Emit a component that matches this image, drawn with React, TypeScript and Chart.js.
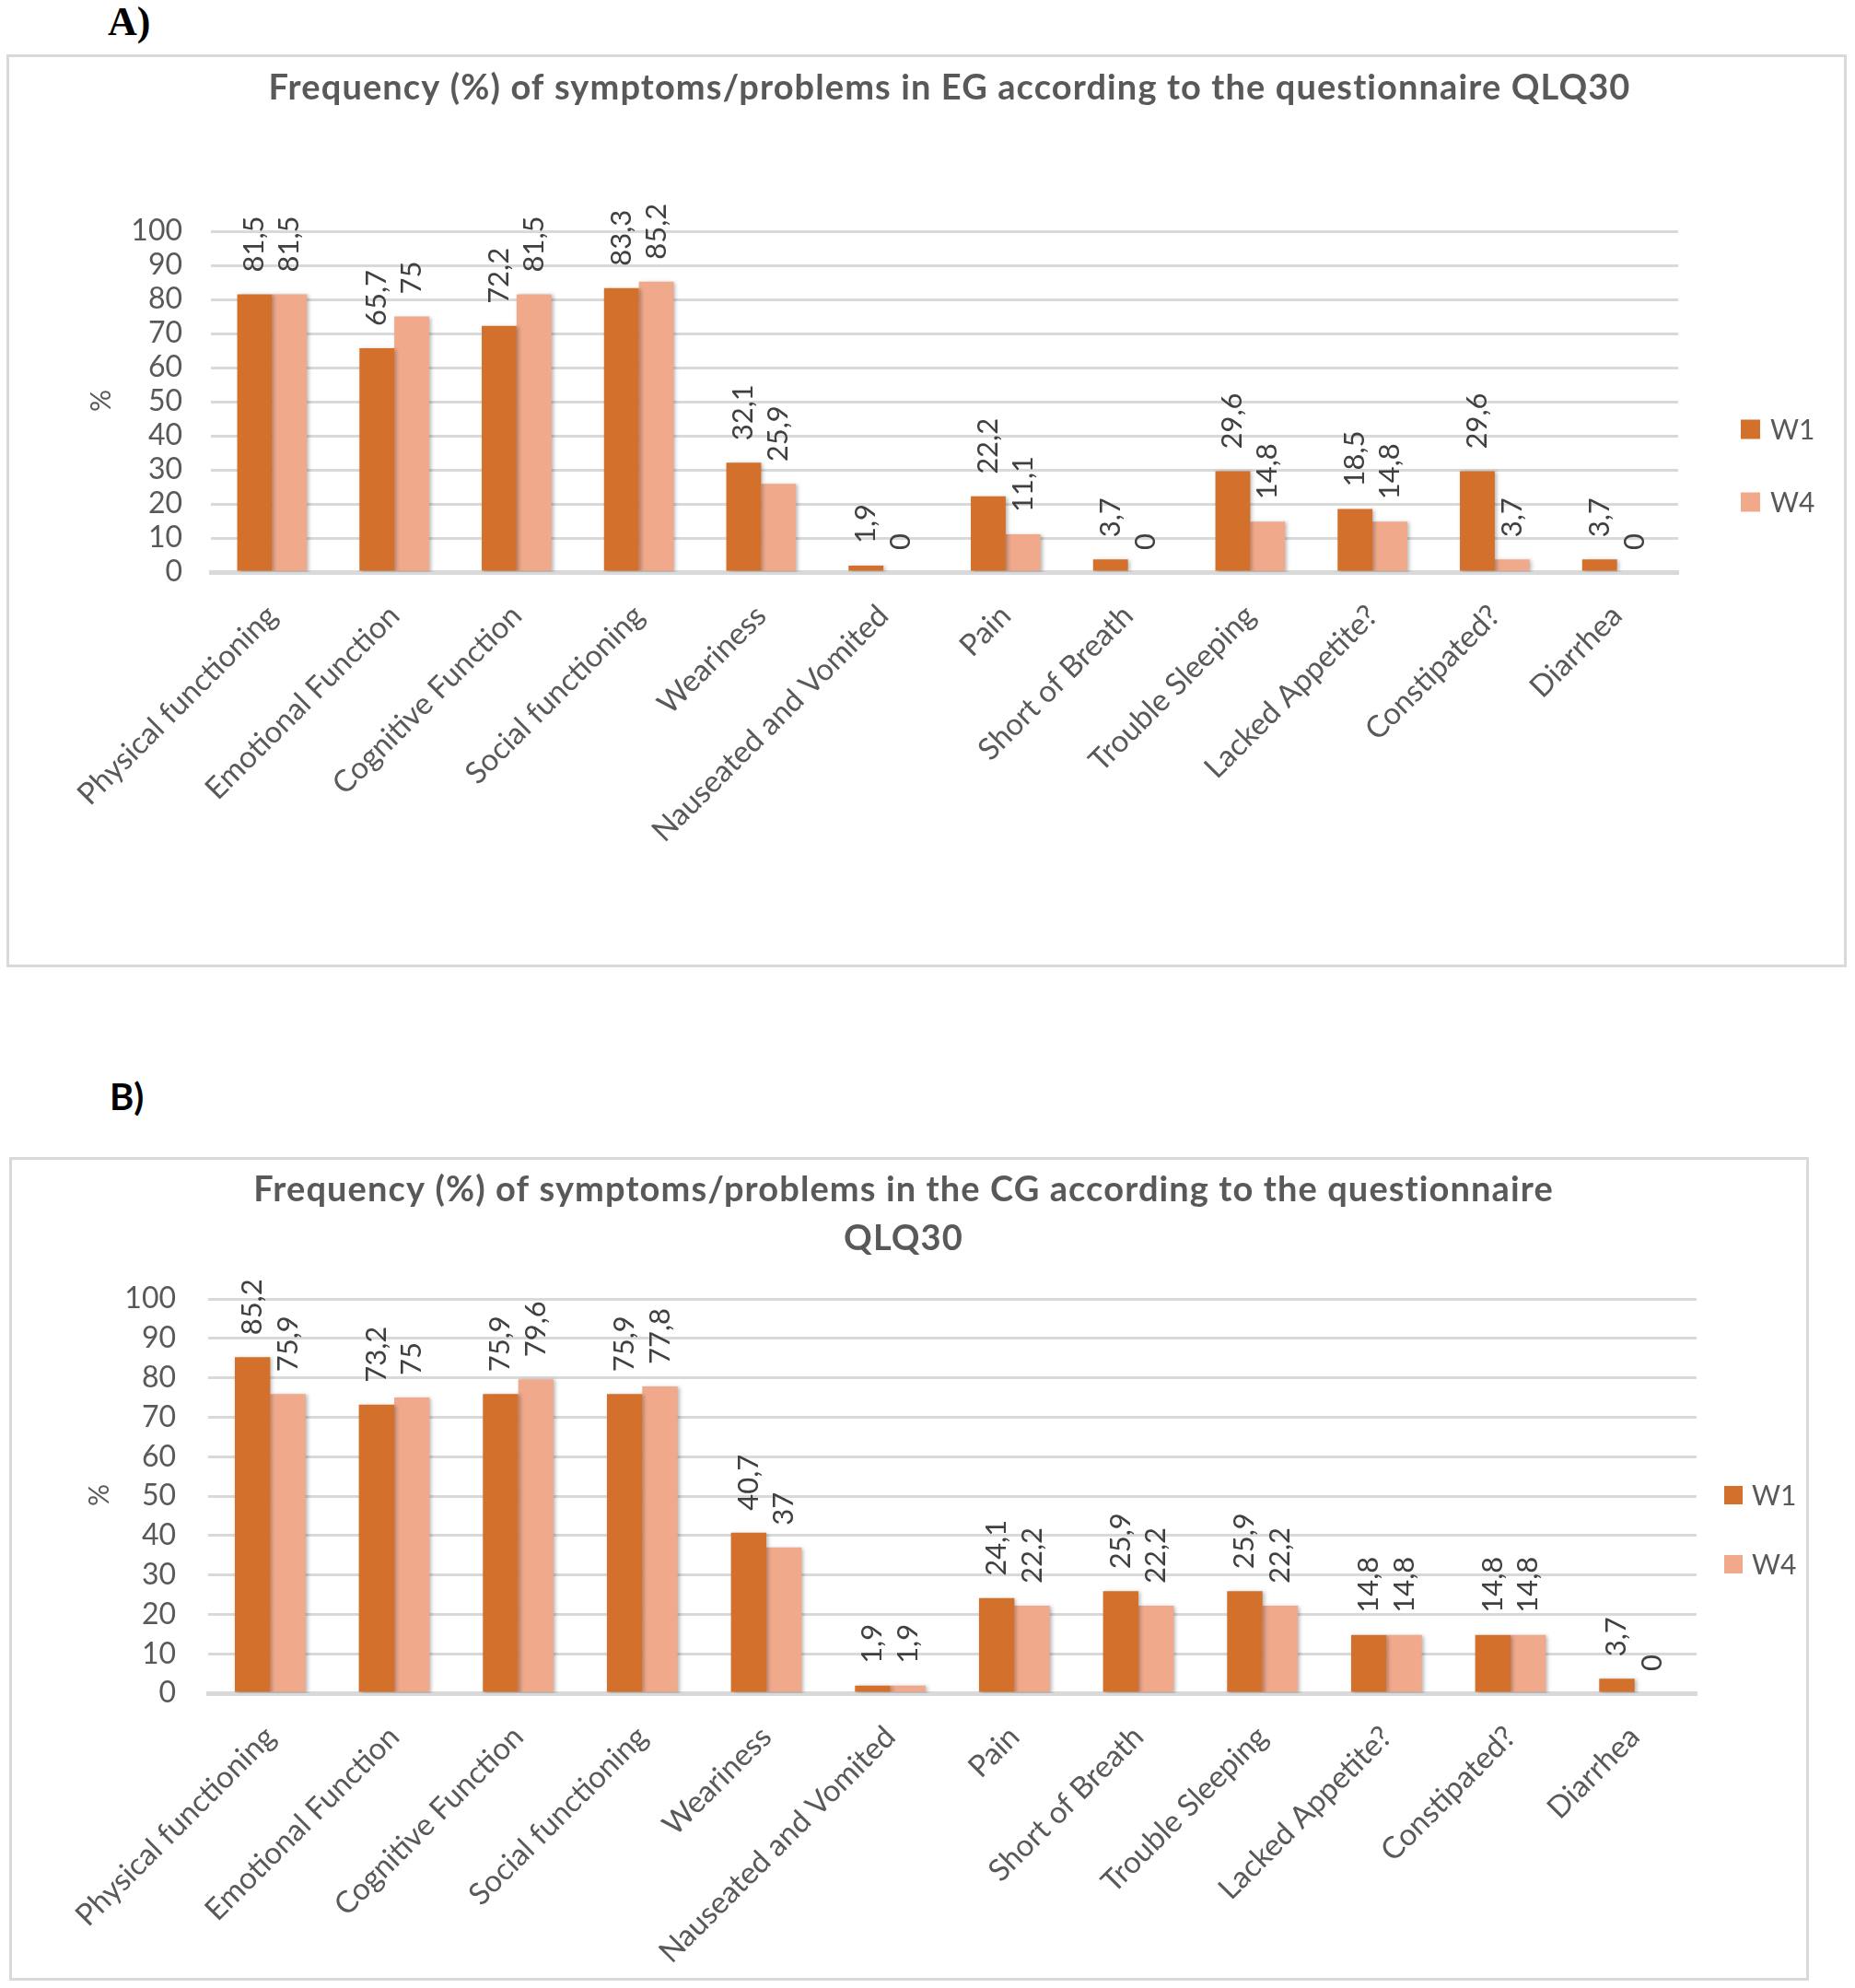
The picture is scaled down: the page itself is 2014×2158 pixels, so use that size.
import React, { useEffect, useRef } from "react";
import { Chart, registerables } from "chart.js";

Chart.register(...registerables);

// ---------- data ----------
const categories = [
  "Physical functioning",
  "Emotional Function",
  "Cognitive Function",
  "Social functioning",
  "Weariness",
  "Nauseated and Vomited",
  "Pain",
  "Short of Breath",
  "Trouble Sleeping",
  "Lacked Appetite?",
  "Constipated?",
  "Diarrhea",
];
const seriesNames = ["W1", "W4"];
const egW1 = [81.5, 65.7, 72.2, 83.3, 32.1, 1.9, 22.2, 3.7, 29.6, 18.5, 29.6, 3.7];
const egW4 = [81.5, 75, 81.5, 85.2, 25.9, 0, 11.1, 0, 14.8, 14.8, 3.7, 0];
const cgW1 = [85.2, 73.2, 75.9, 75.9, 40.7, 1.9, 24.1, 25.9, 25.9, 14.8, 14.8, 3.7];
const cgW4 = [75.9, 75, 79.6, 77.8, 37, 1.9, 22.2, 22.2, 22.2, 14.8, 14.8, 0];
const yMin = 0;
const yMax = 100;
const yStep = 10;
const yAxisTitle = "%";
const titleA = ["Frequency (%) of symptoms/problems in EG according to the questionnaire QLQ30"];
const titleB = [
  "Frequency (%) of symptoms/problems in the CG according to the questionnaire",
  "QLQ30",
];

// ---------- styles ----------
const COLORS = ["#D2702C", "#F0A98B"];
const GRID = "#D9D9D9";
const TEXT = "#595959";
const LABEL = "#404040";
const FONT = "Lato, 'Open Sans', sans-serif";

type Cfg = {
  w1: number[];
  w4: number[];
  width: number;
  height: number;
  padTop: number;
  padRight: number;
  yWidth: number;
  yTickPad: number;
  xHeight: number;
  xTickPad: number;
  titleLines: string[];
  titleX: number;
  titleBaseline: number;
  titleLineGap: number;
  legendX: number;
  legendY: number[];
  legendTextX: number;
  legendSize: number;
  pctX: number;
  pctY: number;
};

const fmt = (v: number) => String(v).replace(".", ",");

function BarChart({ cfg }: { cfg: Cfg }) {
  const ref = useRef<HTMLCanvasElement | null>(null);

  useEffect(() => {
    const canvas = ref.current;
    if (!canvas) return;

    const shadowPlugin = {
      id: "barShadow",
      beforeDatasetsDraw(chart: any) {
        const ctx = chart.ctx;
        ctx.save();
        ctx.shadowColor = "rgba(0,0,0,0.28)";
        ctx.shadowBlur = 4;
        ctx.shadowOffsetX = 2;
        ctx.shadowOffsetY = 1;
      },
      afterDatasetsDraw(chart: any) {
        chart.ctx.restore();
      },
    };

    const extrasPlugin = {
      id: "extras",
      afterDraw(chart: any) {
        const ctx = chart.ctx as CanvasRenderingContext2D;
        // data labels
        ctx.save();
        ctx.font = `31px ${FONT}`;
        ctx.fillStyle = LABEL;
        ctx.textAlign = "left";
        ctx.textBaseline = "middle";
        chart.data.datasets.forEach((ds: any, di: number) => {
          const meta = chart.getDatasetMeta(di);
          meta.data.forEach((el: any, i: number) => {
            ctx.save();
            ctx.translate(el.x, el.y - 24);
            ctx.rotate(-Math.PI / 2);
            ctx.fillText(fmt(ds.data[i]), 0, 0);
            ctx.restore();
          });
        });
        ctx.restore();

        // title
        ctx.save();
        ctx.font = `bold 38px ${FONT}`;
        (ctx as any).letterSpacing = "1.1px";
        ctx.fillStyle = TEXT;
        ctx.textAlign = "center";
        ctx.textBaseline = "alphabetic";
        cfg.titleLines.forEach((t, i) => {
          ctx.fillText(t, cfg.titleX, cfg.titleBaseline + i * cfg.titleLineGap);
        });
        ctx.restore();

        // legend
        ctx.save();
        ctx.font = `30px ${FONT}`;
        ctx.textAlign = "left";
        ctx.textBaseline = "middle";
        chart.data.datasets.forEach((ds: any, di: number) => {
          const cy = cfg.legendY[di];
          ctx.fillStyle = ds.backgroundColor;
          ctx.fillRect(cfg.legendX, cy - cfg.legendSize / 2, cfg.legendSize, cfg.legendSize);
          ctx.fillStyle = TEXT;
          ctx.fillText(ds.label, cfg.legendTextX, cy + 1);
        });
        ctx.restore();

        // y axis title
        ctx.save();
        ctx.font = `30px ${FONT}`;
        ctx.fillStyle = TEXT;
        ctx.textAlign = "center";
        ctx.textBaseline = "middle";
        ctx.translate(cfg.pctX, cfg.pctY);
        ctx.rotate(-Math.PI / 2);
        ctx.fillText(yAxisTitle, 0, 0);
        ctx.restore();
      },
    };

    const chart = new Chart(canvas, {
      type: "bar",
      data: {
        labels: categories,
        datasets: [
          { label: seriesNames[0], data: cfg.w1, backgroundColor: COLORS[0] },
          { label: seriesNames[1], data: cfg.w4, backgroundColor: COLORS[1] },
        ],
      },
      options: {
        responsive: false,
        animation: false,
        devicePixelRatio: 1,
        layout: { padding: { top: cfg.padTop, right: cfg.padRight, left: 0, bottom: 0 } },
        datasets: { bar: { categoryPercentage: 0.57, barPercentage: 1.0 } },
        plugins: {
          legend: { display: false },
          title: { display: false },
          tooltip: { enabled: false },
        },
        scales: {
          x: {
            grid: { display: false, drawTicks: false },
            border: { display: true, color: GRID, width: 5 },
            ticks: {
              autoSkip: false,
              minRotation: 45,
              maxRotation: 45,
              padding: cfg.xTickPad,
              color: TEXT,
              font: { family: FONT, size: 33 },
            },
            afterFit: (s: any) => {
              s.height = cfg.xHeight;
            },
          },
          y: {
            min: yMin,
            max: yMax,
            grid: { color: GRID, lineWidth: 3, drawTicks: false },
            border: { display: false },
            ticks: {
              stepSize: yStep,
              autoSkip: false,
              padding: cfg.yTickPad,
              color: TEXT,
              font: { family: FONT, size: 32 },
            },
            afterFit: (s: any) => {
              s.width = cfg.yWidth;
            },
          },
        },
      },
      plugins: [shadowPlugin, extrasPlugin],
    } as any);

    return () => chart.destroy();
  }, [cfg]);

  return <canvas ref={ref} width={cfg.width} height={cfg.height} style={{ display: "block" }} />;
}

const cfgA: Cfg = {
  w1: egW1,
  w4: egW4,
  width: 1992,
  height: 985,
  padTop: 189,
  padRight: 180,
  yWidth: 219,
  yTickPad: 31,
  xHeight: 426,
  xTickPad: 28,
  titleLines: titleA,
  titleX: 1021,
  titleBaseline: 46,
  titleLineGap: 53,
  legendX: 1880,
  legendY: [404, 483],
  legendTextX: 1912,
  legendSize: 21,
  pctX: 100,
  pctY: 373,
};

const cfgB: Cfg = {
  w1: cgW1,
  w4: cgW4,
  width: 1948,
  height: 888,
  padTop: 151,
  padRight: 119,
  yWidth: 213,
  yTickPad: 35,
  xHeight: 309,
  xTickPad: 28,
  titleLines: titleB,
  titleX: 968,
  titleBaseline: 45,
  titleLineGap: 53,
  legendX: 1859,
  legendY: [364, 439],
  legendTextX: 1889,
  legendSize: 20,
  pctX: 95,
  pctY: 364,
};

export default function App() {
  return (
    <div
      style={{
        position: "absolute",
        left: 0,
        top: 0,
        width: 2014,
        height: 2158,
        background: "#fff",
        overflow: "hidden",
      }}
    >
      <div
        style={{
          position: "absolute",
          left: 117,
          top: 2,
          fontFamily: "'Liberation Serif', 'Times New Roman', serif",
          fontWeight: "bold",
          fontSize: 44,
          lineHeight: "44px",
          color: "#000",
        }}
      >
        A)
      </div>
      <div
        style={{
          position: "absolute",
          left: 7,
          top: 59,
          width: 1998,
          height: 991,
          border: `3px solid ${GRID}`,
          boxSizing: "border-box",
          background: "#fff",
        }}
      >
        <BarChart cfg={cfgA} />
      </div>

      <div
        style={{
          position: "absolute",
          left: 119,
          top: 1166,
          fontFamily: FONT,
          fontWeight: "bold",
          fontSize: 40,
          lineHeight: "48px",
          color: "#000",
        }}
      >
        B)
      </div>
      <div
        style={{
          position: "absolute",
          left: 10,
          top: 1256,
          width: 1954,
          height: 894,
          border: `3px solid ${GRID}`,
          boxSizing: "border-box",
          background: "#fff",
        }}
      >
        <BarChart cfg={cfgB} />
      </div>
    </div>
  );
}
